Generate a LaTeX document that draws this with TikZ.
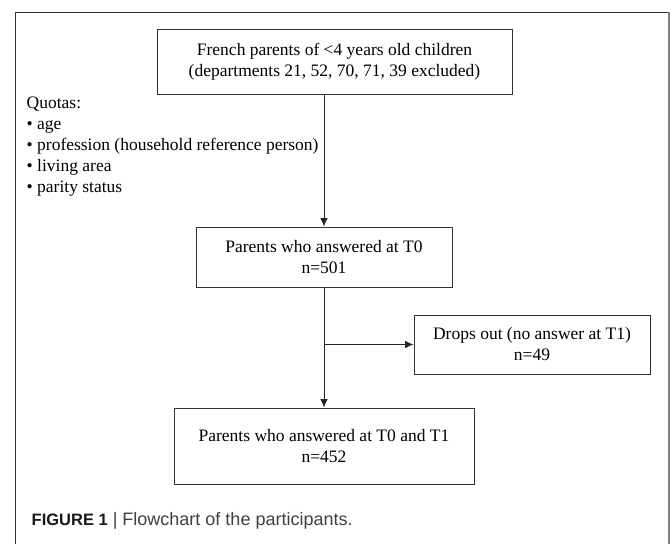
\documentclass[tikz,border=0pt]{standalone}
\usepackage{fontspec}
\setmainfont{Liberation Serif}
\newfontfamily\capfont{Liberation Sans}
\usepackage{xcolor}
\usepackage{tikz}
\usetikzlibrary{arrows.meta}

\begin{document}
\begin{tikzpicture}[x=1pt, y=-1pt,
        box/.style={draw=black!80, line width=0.9pt, align=center, inner sep=0pt,
                font=\fontsize{17.5}{21}\selectfont},
        flow/.style={draw=black!85, line width=0.9pt, -{Latex[length=8.5pt, width=7.5pt]}}]
        \useasboundingbox (0,0) rectangle (671,544);
        % Draw the frame
        \draw[black!80, line width=1pt] (15,544) -- (15,12.3) -- (669,12.3);
        \draw[black!50, line width=1.5pt] (669,12.3) -- (669,544);
        % Draw the boxes
        \node[box, minimum width=355pt, minimum height=65pt] (french) at (334.5,62)
                {French parents of <4 years old children\\(departments 21, 52, 70, 71, 39 excluded)};
        \node[box, minimum width=256pt, minimum height=60pt] (t0) at (324,257)
                {Parents who answered at T0\\n=501};
        \node[box, minimum width=236pt, minimum height=59pt] (drop) at (532,344.5)
                {Drops out (no answer at T1)\\n=49};
        \node[box, minimum width=300pt, minimum height=76pt] (both) at (324,446)
                {Parents who answered at T0 and T1\\n=452};
        % Quotas list
        \node[anchor=base west, align=left, inner sep=0pt, font=\fontsize{17.5}{21}\selectfont] (quotas) at (26.5,192.5)
                {Quotas:\\• age\\• profession (household reference person)\\• living area\\• parity status};
        % Draw arrows
        \coordinate (split) at (t0.south |- drop.west);
        \draw[flow] (french.south -| t0.north) -- (t0.north);
        \draw[flow] (t0.south) -- (both.north);
        \draw[flow] (split) -- (drop.west);
        % Caption
        \node[anchor=base west, inner sep=0pt, text=black!75, font=\capfont\fontsize{18}{21}\selectfont] (caption) at (31.5,525)
                {{\color{black!90}\fontsize{16.5}{21}\selectfont\bfseries FIGURE 1} | Flowchart of the participants.};
\end{tikzpicture}
\end{document}
